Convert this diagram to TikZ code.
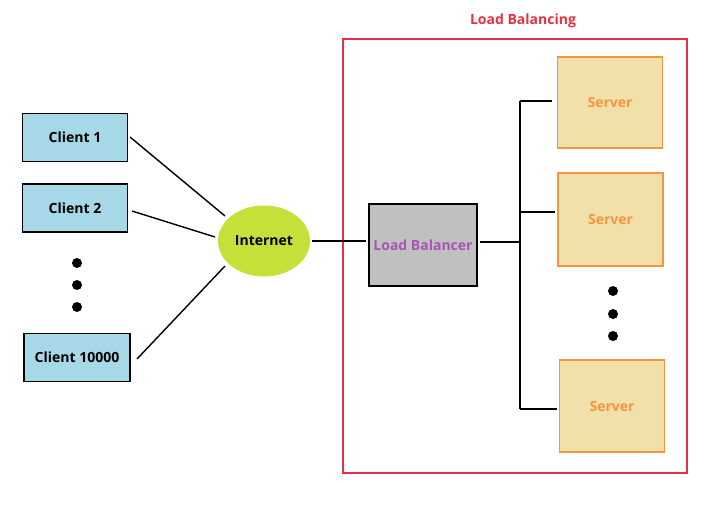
\documentclass[tikz,border=0pt]{standalone}
\usepackage{fontspec}
\setmainfont{Open Sans}
\usetikzlibrary{shapes.geometric}
\definecolor{clientfill}{HTML}{A6D8E8}
\definecolor{netfill}{HTML}{C6E03A}
\definecolor{lbfill}{HTML}{C0C0C0}
\definecolor{lbtext}{HTML}{A855B5}
\definecolor{srvfill}{HTML}{F2E0AA}
\definecolor{srvline}{HTML}{F7953F}
\definecolor{redline}{HTML}{E83040}
\tikzset{
  lbl/.style={font=\bfseries\fontsize{14}{16}\selectfont},
  clientbox/.style={draw=black, line width=1.4pt, fill=clientfill, minimum width=105pt, minimum height=48pt, inner sep=0pt, lbl},
  srvbox/.style={draw=srvline, line width=1.4pt, fill=srvfill, minimum width=105pt, minimum height=91pt, inner sep=0pt, text=srvline, lbl},
  conn/.style={line width=1.4pt, black},
  dotmark/.style={circle, fill=black, minimum size=10pt, inner sep=0pt}
}
\begin{document}
\begin{tikzpicture}[x=1pt,y=-1pt]
\useasboundingbox (0,0) rectangle (713,509);
\fill[white] (0,0) rectangle (713,509);
% load balancing frame
\draw[redline, line width=1.4pt] (343,39) rectangle (687,473);
\node[text=redline, lbl] (title) at (523,21) {Load Balancing};
% clients
\node[clientbox] (c1) at (75,137.5) {Client 1};
\node[clientbox] (c2) at (75,208) {Client 2};
\node[clientbox, minimum width=106pt] (c3) at (77,357.5) {Client 10000};
\node[dotmark] (d1) at (77,263) {};
\node[dotmark] (d2) at (77,285) {};
\node[dotmark] (d3) at (77,307) {};
% internet
\node[ellipse, fill=netfill, minimum width=92pt, minimum height=71pt, inner sep=0pt, lbl] (net) at (264,241) {Internet};
% load balancer
\node[draw=black, line width=1.4pt, fill=lbfill, minimum width=108pt, minimum height=82pt, inner sep=0pt, text=lbtext, lbl] (lb) at (423,245) {Load Balancer};
% servers
\node[srvbox] (s1) at (610,102.5) {Server};
\node[srvbox, minimum height=93pt] (s2) at (610.5,219.5) {Server};
\node[srvbox, minimum height=92pt] (s3) at (612,406) {Server};
\node[dotmark] (e1) at (613,291) {};
\node[dotmark] (e2) at (613,314) {};
\node[dotmark] (e3) at (613,336) {};
% connectors
\coordinate (c1e) at (130,137);
\coordinate (c2e) at (132,211);
\coordinate (c3e) at (137,359);
\coordinate (n1) at (225,216);
\coordinate (n2) at (215,237);
\coordinate (n3) at (225,266);
\draw[conn] (c1e) -- (n1);
\draw[conn] (c2e) -- (n2);
\draw[conn] (c3e) -- (n3);
\coordinate (ne) at (312,241);
\coordinate (lbw) at (366,241);
\draw[conn] (ne) -- (lbw);
\coordinate (lbe) at (480,242);
\coordinate (bus) at (520,242);
\coordinate (bt) at (520,101);
\coordinate (bb) at (520,409);
\coordinate (bm) at (520,212);
\draw[conn] (lbe) -- (bus);
\draw[conn] (bt) -- (bb);
\draw[conn] (bt) -- (552,101);
\draw[conn] (bm) -- (555,212);
\draw[conn] (bb) -- (557,409);
\end{tikzpicture}
\end{document}
